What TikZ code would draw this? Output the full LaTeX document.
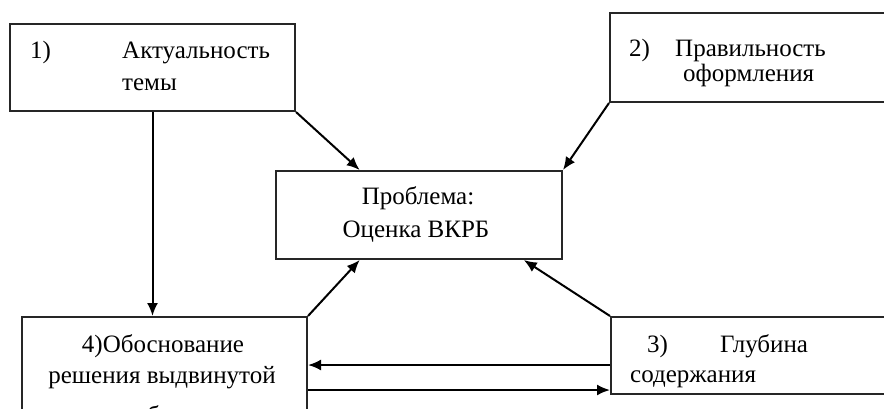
\documentclass[tikz,border=0pt]{standalone}
\usepackage{fontspec}
\setmainfont{Liberation Serif}
\usetikzlibrary{arrows.meta,positioning,calc}

\begin{document}
\begin{tikzpicture}[
			x=1pt,y=-1pt,
			>=Latex,
			box/.style={
				draw=black!85,
				line width=2pt,
				rectangle,
				inner sep=0pt
			},
			txt/.style={
				anchor=base west,
				inner sep=0pt,
				font=\fontsize{25}{32}\selectfont
			},
			ctxt/.style={
				anchor=base,
				inner sep=0pt,
				font=\fontsize{25}{32}\selectfont
			},
			arr/.style={
				->,
				line width=2pt,
				>={Latex[length=13pt,width=11pt]}
			}
			]
			
			\useasboundingbox (0,0) rectangle (884,408);
			\clip (0,0) rectangle (884,408);
			
			% Boxes
			\node[box,minimum width=285pt,minimum height=87pt] (actual) at (152.5,67.5) {};
			\node[box,minimum width=295pt,minimum height=89pt] (correct) at (757.5,57.5) {};
			\node[box,minimum width=286pt,minimum height=88pt] (problem) at (419,215) {};
			\node[box,minimum width=285pt,minimum height=93pt] (basis) at (164.5,363.5) {};
			\node[box,minimum width=294pt,minimum height=77pt] (depth) at (758,355.5) {};
			
			% Texts
			\node[txt] (actnum) at (30,58) {1)};
			\node[txt] (acta) at (122,58) {Актуальность};
			\node[txt] (actb) at (122,90) {темы};
			
			\node[txt] (cornum) at (629,56) {2)};
			\node[txt] (cora) at (675,56) {Правильность};
			\node[txt] (corb) at (683,81) {оформления};
			
			\node[ctxt] (proba) at (418,204) {Проблема:};
			\node[ctxt] (probb) at (416,237) {Оценка ВКРБ};
			
			\node[ctxt] (basa) at (163,352) {4)Обоснование};
			\node[ctxt] (basb) at (162,383) {решения выдвинутой};
			\node[ctxt] (basc) at (162,423) {проблемы};
			
			\node[txt] (depnum) at (647,352) {3)};
			\node[txt] (depa) at (720,352) {Глубина};
			\node[txt] (depb) at (630,382) {содержания};
			
			% Arrows into problem
			\draw[arr] (actual.south east) -- ($(problem.north west)!0.294!(problem.north east)$);
			\draw[arr] (correct.south west) -- (problem.north east);
			\draw[arr] (basis.north east) -- ($(problem.south west)!0.294!(problem.south east)$);
			\draw[arr] (depth.north west) -- ($(problem.south west)!0.864!(problem.south east)$);
			
			% Arrow down
			\draw[arr] (actual.south) -- (actual.south |- basis.north);
			
			% Arrows between 3 and 4
			\coordinate (back) at ([yshift=-9.5pt]depth.west);
			\coordinate (forth) at ([yshift=-26.5pt]basis.east);
			\draw[arr] (back) -- (back -| basis.east);
			\draw[arr] (forth) -- (forth -| depth.west);
			
		\end{tikzpicture}
\end{document}
